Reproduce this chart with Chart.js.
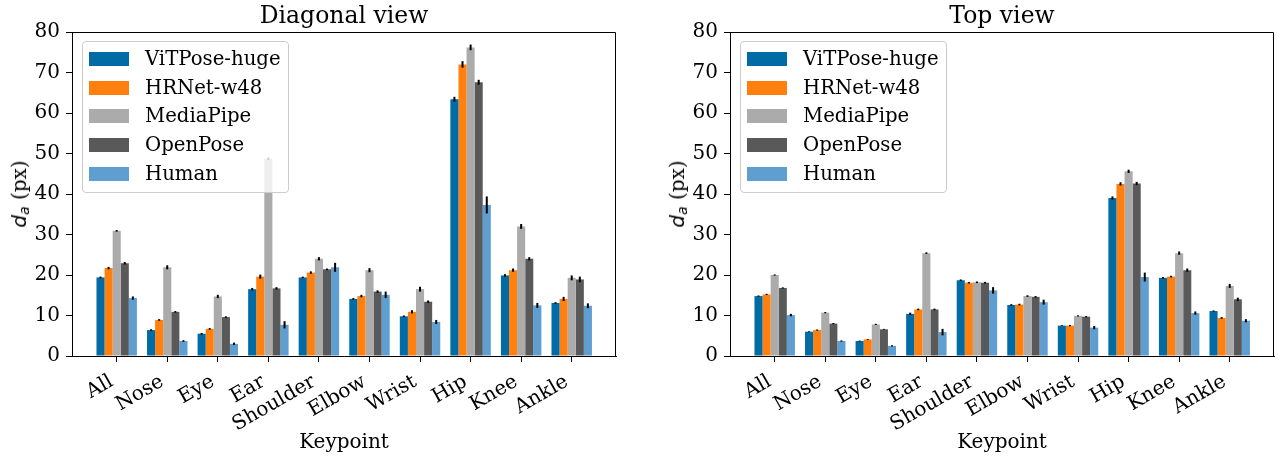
<!DOCTYPE html>
<html>
<head>
<meta charset="utf-8">
<script src="https://cdn.jsdelivr.net/npm/chart.js@4.4.1/dist/chart.umd.min.js"></script>
<style>
  body { margin: 0; background: #fff; }
  #wrap { position: relative; width: 1278px; height: 458px; font-family: "DejaVu Serif", serif; color: #000; }
  .pane { position: absolute; top: 0; width: 639px; height: 458px; }
  .title { position: absolute; top: 3.5px; font-size: 23.5px; line-height: 1; white-space: nowrap; transform: translateX(-50%); }
  .ylab { position: absolute; top: 194px; font-size: 20px; line-height: 1; white-space: nowrap; transform: translate(-50%, -50%) rotate(-90deg); }
  .ylab .m { font-family: "DejaVu Sans", sans-serif; font-style: italic; }
  .ylab sub { font-family: "DejaVu Sans", sans-serif; font-style: italic; font-size: 14px; vertical-align: -3px; }
  .legend { position: absolute; top: 41px; width: 205px; height: 150px; border: 1px solid #cccccc; border-radius: 4px; background: rgba(255,255,255,0.8); }
  .legend .row { position: absolute; left: 0; height: 20px; font-size: 19.7px; line-height: 20px; white-space: nowrap; }
  .legend .sw { position: absolute; left: 6px; top: 3px; width: 40px; height: 14px; }
  .legend .tx { position: absolute; left: 62px; top: 0; }
</style>
</head>
<body>
<div id="wrap">
  <div class="pane" style="left:0"><canvas id="diag" width="639" height="458"></canvas></div>
  <div class="pane" style="left:639px"><canvas id="top" width="639" height="458"></canvas></div>
  <div class="title" style="left:344px">Diagonal view</div>
  <div class="title" style="left:1002px">Top view</div>
  <div class="ylab" style="left:20px"><span class="m">d</span><sub>a</sub> (px)</div>
  <div class="ylab" style="left:678px"><span class="m">d</span><sub>a</sub> (px)</div>
  <div class="legend" id="legDiag" style="left:82px"></div>
  <div class="legend" id="legTop" style="left:740px"></div>
</div>
<script>
const keypoints = ['All', 'Nose', 'Eye', 'Ear', 'Shoulder', 'Elbow', 'Wrist', 'Hip', 'Knee', 'Ankle'];
const methods = ['ViTPose-huge', 'HRNet-w48', 'MediaPipe', 'OpenPose', 'Human'];
const colors = ['#006BA4', '#FF800E', '#ABABAB', '#595959', '#5F9ED1'];
const yTicks = [0, 10, 20, 30, 40, 50, 60, 70, 80];

// diagonal view, mean d_a per keypoint
const vitDiag = [19.4, 6.4, 5.5, 16.5, 19.4, 14.1, 9.8, 63.4, 19.9, 13.1];
const hrDiag  = [21.7, 8.9, 6.7, 19.6, 20.6, 14.8, 10.9, 72.0, 21.2, 14.1];
const mpDiag  = [30.9, 21.9, 14.7, 48.7, 24.0, 21.2, 16.5, 76.2, 32.0, 19.3];
const opDiag  = [22.9, 10.9, 9.6, 16.7, 21.4, 15.9, 13.4, 67.6, 24.0, 18.9];
const humDiag = [14.3, 3.7, 3.0, 7.7, 21.9, 15.1, 8.4, 37.3, 12.5, 12.4];
// diagonal view, error half-widths
const vitDiagErr = [0.2, 0.2, 0.2, 0.3, 0.2, 0.2, 0.2, 0.6, 0.3, 0.2];
const hrDiagErr  = [0.3, 0.2, 0.2, 0.5, 0.3, 0.3, 0.4, 0.8, 0.4, 0.5];
const mpDiagErr  = [0.2, 0.5, 0.4, 0.3, 0.4, 0.5, 0.6, 0.7, 0.6, 0.6];
const opDiagErr  = [0.3, 0.2, 0.2, 0.3, 0.2, 0.3, 0.3, 0.6, 0.4, 0.7];
const humDiagErr = [0.4, 0.2, 0.3, 0.9, 1.1, 0.8, 0.5, 2.1, 0.6, 0.6];

// top view
const vitTop = [14.8, 6.0, 3.7, 10.4, 18.7, 12.6, 7.5, 39.0, 19.3, 11.1];
const hrTop  = [15.2, 6.4, 4.1, 11.5, 18.1, 12.7, 7.5, 42.5, 19.6, 9.4];
const mpTop  = [20.0, 10.7, 7.8, 25.4, 18.2, 14.8, 9.9, 45.6, 25.4, 17.3];
const opTop  = [16.8, 8.0, 6.6, 11.5, 18.1, 14.6, 9.7, 42.6, 21.2, 14.0];
const humTop = [10.1, 3.7, 2.5, 5.9, 16.2, 13.3, 7.0, 19.5, 10.6, 8.7];
const vitTopErr = [0.15, 0.1, 0.1, 0.3, 0.2, 0.2, 0.1, 0.4, 0.2, 0.15];
const hrTopErr  = [0.15, 0.15, 0.1, 0.2, 0.2, 0.2, 0.15, 0.4, 0.2, 0.2];
const mpTopErr  = [0.15, 0.15, 0.15, 0.2, 0.2, 0.2, 0.15, 0.4, 0.4, 0.5];
const opTopErr  = [0.15, 0.15, 0.1, 0.2, 0.2, 0.2, 0.15, 0.4, 0.4, 0.4];
const humTopErr = [0.3, 0.15, 0.15, 0.8, 0.8, 0.6, 0.4, 1.1, 0.4, 0.4];

const FONT = 'DejaVu Serif';

// error bars + top/right spines
const extras = {
    id: 'extras',
    beforeDraw(chart) {
        // pull rotated x labels left so their right edge sits at the tick, like matplotlib ha='right'
        const xs = chart.scales.x;
        xs.getLabelItems(chart.chartArea).forEach(item => {
            if (!item._shifted) {
                item.options.translation[0] -= 5;
                item._shifted = true;
            }
        });
    },
    afterDatasetsDraw(chart) {
        const ctx = chart.ctx;
        const ys = chart.scales.y;
        ctx.save();
        ctx.strokeStyle = '#000';
        ctx.lineWidth = 2;
        chart.data.datasets.forEach((ds, i) => {
            chart.getDatasetMeta(i).data.forEach((bar, j) => {
                const v = ds.data[j].y, e = ds.errs[j];
                ctx.beginPath();
                ctx.moveTo(bar.x, ys.getPixelForValue(v - e));
                ctx.lineTo(bar.x, ys.getPixelForValue(v + e));
                ctx.stroke();
            });
        });
        const a = chart.chartArea;
        ctx.lineWidth = 1;
        ctx.beginPath();
        ctx.moveTo(Math.round(a.left) + 0.5, Math.round(a.top) + 0.5);
        ctx.lineTo(Math.round(a.right) - 0.5, Math.round(a.top) + 0.5);
        ctx.lineTo(Math.round(a.right) - 0.5, Math.round(a.bottom));
        ctx.stroke();
        ctx.restore();
    }
};

function makeChart(id, series, errs, padLeft, padRight) {
    const datasets = methods.map((m, i) => ({
        label: m,
        data: series[i].map((v, j) => ({x: j, y: v})),
        errs: errs[i],
        backgroundColor: colors[i],
        borderWidth: 0,
        categoryPercentage: 0.8,
        barPercentage: 1.0,
    }));
    return new Chart(document.getElementById(id), {
        type: 'bar',
        data: {datasets},
        plugins: [extras],
        options: {
            responsive: false,
            animation: false,
            devicePixelRatio: 1,
            layout: {padding: {left: padLeft, right: padRight, top: 32, bottom: 0}},
            plugins: {legend: {display: false}, tooltip: {enabled: false}, title: {display: false}},
            scales: {
                x: {
                    type: 'linear',
                    min: -0.884,
                    max: 9.876,
                    offset: false,
                    afterBuildTicks: s => { s.ticks = keypoints.map((k, i) => ({value: i})); },
                    afterFit: s => { s.height = 102; },
                    grid: {display: true, drawOnChartArea: false, drawTicks: true, tickLength: 6, color: '#000', offset: false},
                    border: {display: true, color: '#000', width: 1},
                    ticks: {
                        autoSkip: false,
                        maxRotation: 30,
                        minRotation: 30,
                        padding: 8,
                        color: '#000',
                        font: {family: FONT, size: 20},
                        callback: v => keypoints[v],
                    },
                    title: {display: true, text: 'Keypoint', color: '#000', font: {family: FONT, size: 20}, padding: {top: 0, bottom: 3}},
                },
                y: {
                    min: 0,
                    max: 80,
                    afterBuildTicks: s => { s.ticks = yTicks.map(v => ({value: v})); },
                    afterFit: s => { s.width = 50; },
                    grid: {display: true, drawOnChartArea: false, drawTicks: true, tickLength: 6, color: '#000'},
                    border: {display: true, color: '#000', width: 1},
                    ticks: {padding: 6, color: '#000', font: {family: FONT, size: 20}},
                },
            },
        },
    });
}

function makeLegend(id) {
    const box = document.getElementById(id);
    methods.forEach((m, i) => {
        const row = document.createElement('div');
        row.className = 'row';
        row.style.top = (7 + i * 28.7) + 'px';
        row.innerHTML = `<span class="sw" style="background:${colors[i]}"></span><span class="tx">${m}</span>`;
        box.appendChild(row);
    });
}

makeChart('diag', [vitDiag, hrDiag, mpDiag, opDiag, humDiag],
    [vitDiagErr, hrDiagErr, mpDiagErr, opDiagErr, humDiagErr], 22, 23);
makeChart('top', [vitTop, hrTop, mpTop, opTop, humTop],
    [vitTopErr, hrTopErr, mpTopErr, opTopErr, humTopErr], 41, 4);
makeLegend('legDiag');
makeLegend('legTop');
</script>
</body>
</html>
